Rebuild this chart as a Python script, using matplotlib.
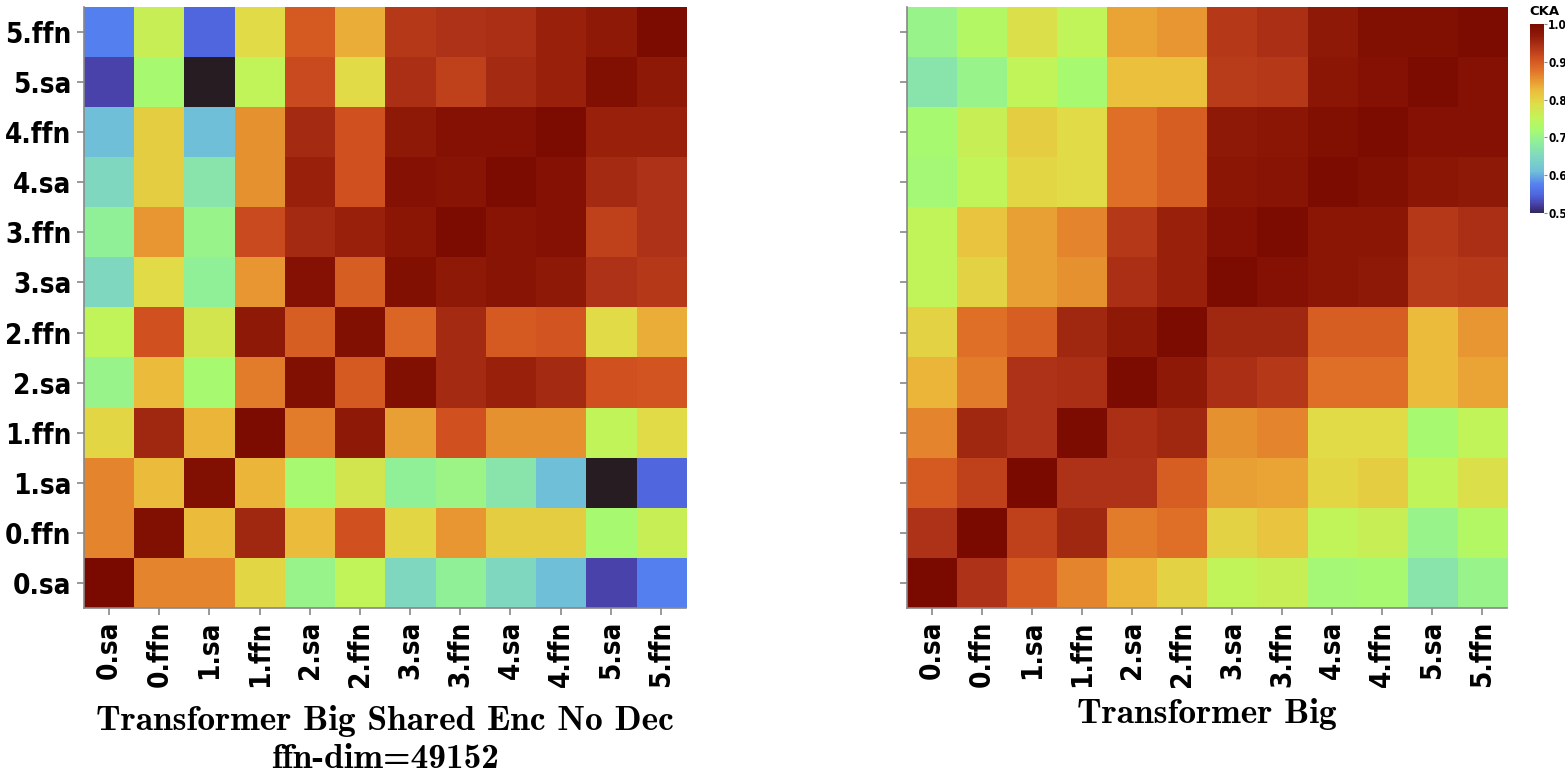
import numpy as np
import matplotlib
matplotlib.use("Agg")
import matplotlib.pyplot as plt
from matplotlib.colors import LinearSegmentedColormap, Normalize

# layer names, bottom to top on y, left to right on x
layers = ["0.sa", "0.ffn", "1.sa", "1.ffn", "2.sa", "2.ffn",
          "3.sa", "3.ffn", "4.sa", "4.ffn", "5.sa", "5.ffn"]

# CKA values, rows listed from top (5.ffn) to bottom (0.sa)
cka_shared = [
    [0.575, 0.76, 0.55, 0.79, 0.90, 0.835, 0.935, 0.94, 0.945, 0.96, 0.97, 0.995],
    [0.525, 0.72, 0.45, 0.75, 0.915, 0.79, 0.945, 0.925, 0.95, 0.96, 0.99, 0.97],
    [0.61, 0.805, 0.61, 0.855, 0.95, 0.91, 0.97, 0.985, 0.985, 0.995, 0.96, 0.96],
    [0.65, 0.805, 0.67, 0.855, 0.96, 0.91, 0.985, 0.98, 0.995, 0.985, 0.95, 0.94],
    [0.69, 0.85, 0.70, 0.915, 0.95, 0.96, 0.975, 0.995, 0.98, 0.985, 0.925, 0.94],
    [0.65, 0.79, 0.69, 0.85, 0.985, 0.895, 0.99, 0.97, 0.98, 0.97, 0.94, 0.935],
    [0.75, 0.91, 0.775, 0.97, 0.895, 0.99, 0.89, 0.95, 0.90, 0.905, 0.79, 0.835],
    [0.70, 0.825, 0.72, 0.87, 0.99, 0.90, 0.99, 0.95, 0.96, 0.95, 0.91, 0.905],
    [0.795, 0.955, 0.83, 0.995, 0.87, 0.97, 0.845, 0.91, 0.855, 0.855, 0.75, 0.79],
    [0.865, 0.825, 0.99, 0.83, 0.72, 0.775, 0.69, 0.705, 0.67, 0.61, 0.45, 0.55],
    [0.865, 0.99, 0.825, 0.955, 0.825, 0.91, 0.795, 0.85, 0.805, 0.805, 0.72, 0.76],
    [1.00, 0.865, 0.865, 0.795, 0.70, 0.75, 0.65, 0.69, 0.65, 0.61, 0.525, 0.575],
]

cka_big = [
    [0.70, 0.735, 0.785, 0.75, 0.84, 0.85, 0.935, 0.945, 0.97, 0.99, 0.99, 0.995],
    [0.67, 0.70, 0.75, 0.72, 0.82, 0.82, 0.93, 0.935, 0.975, 0.985, 0.995, 0.985],
    [0.72, 0.76, 0.805, 0.79, 0.88, 0.895, 0.97, 0.975, 0.99, 0.995, 0.985, 0.985],
    [0.715, 0.75, 0.795, 0.79, 0.88, 0.895, 0.975, 0.98, 0.995, 0.99, 0.975, 0.97],
    [0.75, 0.815, 0.845, 0.865, 0.935, 0.96, 0.985, 0.995, 0.975, 0.975, 0.935, 0.945],
    [0.75, 0.80, 0.845, 0.855, 0.945, 0.96, 0.995, 0.985, 0.975, 0.97, 0.93, 0.935],
    [0.80, 0.88, 0.895, 0.955, 0.97, 0.995, 0.955, 0.955, 0.895, 0.895, 0.825, 0.85],
    [0.83, 0.87, 0.94, 0.945, 0.995, 0.97, 0.945, 0.935, 0.88, 0.88, 0.825, 0.84],
    [0.865, 0.955, 0.94, 0.995, 0.945, 0.955, 0.855, 0.865, 0.79, 0.79, 0.72, 0.75],
    [0.90, 0.925, 1.00, 0.94, 0.94, 0.895, 0.845, 0.84, 0.795, 0.805, 0.75, 0.785],
    [0.94, 1.00, 0.925, 0.955, 0.87, 0.88, 0.80, 0.815, 0.75, 0.76, 0.70, 0.735],
    [1.00, 0.94, 0.90, 0.865, 0.83, 0.80, 0.75, 0.76, 0.715, 0.72, 0.67, 0.70],
]

titles = ["Transformer Big Shared Enc No Dec\nffn-dim=49152", "Transformer Big"]
cbar_ticks = [0.5, 0.6, 0.7, 0.8, 0.9, 1.0]

# softer turbo-like scale, as in the picture
cmap = LinearSegmentedColormap.from_list("cka", [
    (0.00, "#30275a"), (0.05, "#4a44b0"), (0.10, "#5068e0"), (0.15, "#5580f0"),
    (0.22, "#70c0d8"), (0.30, "#80d8c0"), (0.38, "#90f098"), (0.44, "#a8fa70"),
    (0.50, "#c0f55a"), (0.58, "#e0dc48"), (0.65, "#ecbc3c"), (0.70, "#e89832"),
    (0.76, "#e07028"), (0.82, "#d05020"), (0.88, "#b03418"), (0.94, "#901a08"),
    (1.00, "#7a0a00"),
])
cmap.set_under("#261c22")
norm = Normalize(vmin=0.5, vmax=1.0)

tick_font = dict(family="DejaVu Sans", weight="bold", stretch="condensed", size=20)
axis_grey = "#888888"

fig = plt.figure(figsize=(15.65, 7.82), dpi=100)
ax_l = fig.add_axes([0.0537, 0.2225, 0.3847, 0.7685])
ax_r = fig.add_axes([0.5796, 0.2225, 0.3834, 0.7685])

for ax, data, title, show_y, pad in [(ax_l, cka_shared, titles[0], True, 13),
                                     (ax_r, cka_big, titles[1], False, 8)]:
    ax.imshow(np.array(data), cmap=cmap, norm=norm, aspect="auto",
              interpolation="nearest")
    n = len(layers)
    ax.set_xticks(range(n))
    ax.set_xticklabels(layers, rotation=90, fontdict=tick_font)
    ax.set_yticks(range(n))
    if show_y:
        ax.set_yticklabels(layers[::-1], fontdict=tick_font)
    else:
        ax.set_yticklabels([])
    for side in ["top", "right"]:
        ax.spines[side].set_visible(False)
    for side in ["left", "bottom"]:
        ax.spines[side].set_color(axis_grey)
        ax.spines[side].set_linewidth(1.2)
    ax.tick_params(color=axis_grey, length=5, width=1.2, pad=4)
    ax.set_xlabel(title, fontfamily="cmb10", fontsize=25.5, labelpad=pad,
                  linespacing=1.3)

cax = fig.add_axes([0.9776, 0.7276, 0.0089, 0.2417])
cb = fig.colorbar(plt.cm.ScalarMappable(norm=norm, cmap=cmap), cax=cax,
                  ticks=cbar_ticks)
cb.outline.set_visible(False)
cb.ax.tick_params(length=2, width=0.8, color=axis_grey, pad=1)
cb.ax.set_yticklabels([f"{t:.1f}" for t in cbar_ticks],
                      fontdict=dict(family="DejaVu Sans", weight="bold",
                                    stretch="condensed", size=8.5))
fig.text(0.9770, 0.9935, "CKA", fontsize=9.5, fontweight="bold",
         ha="left", va="top")

fig.savefig("out.png", dpi=100)
